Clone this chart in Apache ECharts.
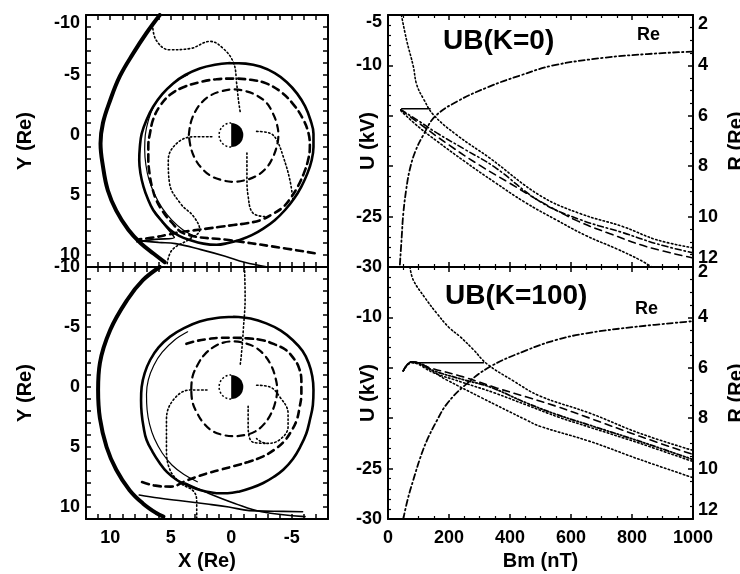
<!DOCTYPE html>
<html>
<head>
<meta charset="utf-8">
<script src="https://cdn.jsdelivr.net/npm/echarts@6/dist/echarts.min.js"></script>
<style>
  html, body { margin: 0; padding: 0; background: #fff; }
  #chart { width: 740px; height: 574px; }
</style>
</head>
<body>
<div id="chart"></div>
<script>
// ---- left panels: trajectories in the X-Y plane (Re) ----
const earthPos = [[0, 0]];
const earthRadius = 1.0;

const tlOuter = [[5.9,-10],[7.0,-8.5],[8.1,-6.8],[9.2,-4.9],[10.0,-2.9],[10.6,-1.0],[10.8,0.7],[10.6,2.6],[10.2,4.6],[9.5,6.3],[8.5,7.9],[7.5,9.0],[6.4,9.9],[5.5,10.6]];
const tlCircle = [[0.1,-6.0],[-1.2,-5.95],[-2.4,-5.7],[-3.6,-5.15],[-4.6,-4.4],[-5.45,-3.45],[-6.1,-2.4],[-6.55,-1.25],[-6.8,-0.1],[-6.8,1.0],[-6.65,2.1],[-6.3,3.2],[-5.8,4.3],[-5.2,5.3],[-4.45,6.25],[-3.6,7.1],[-2.65,7.8],[-1.7,8.35],[-0.7,8.75],[0.25,9.0],[1.2,9.15],[2.3,9.05],[3.4,8.75],[4.3,8.4],[5.06,7.9],[5.8,7.1],[6.45,6.25],[6.9,5.3],[7.25,4.3],[7.5,3.2],[7.6,2.1],[7.55,1.0],[7.4,-0.1],[7.0,-1.25],[6.45,-2.35],[5.7,-3.4],[4.8,-4.3],[3.8,-5.0],[2.6,-5.55],[1.35,-5.85],[0.1,-6.0]];
const tlInner = [[3.6,-5.0],[4.7,-4.4],[5.6,-3.5],[6.4,-2.4],[6.85,-1.2],[7.1,0.0],[7.15,1.2],[7.05,2.5],[6.8,3.7],[6.35,4.9],[5.7,6.1],[4.9,7.1],[4.0,7.9],[2.9,8.5]];
const tlTailA = [[7.8,8.9],[6.3,8.7],[4.7,8.55],[5.5,7.5],[6.4,6.3]];
const tlTailB = [[7.7,8.8],[6.0,8.95],[4.6,9.05],[2.5,9.55],[0.5,10.1],[-1.1,10.6],[-3.0,11.0]];
const tlDash = [[-6.9,9.85],[-3.5,9.3],[0.2,8.75],[3.8,8.25],[5.0,7.2],[5.7,6.3],[6.2,5.4],[6.55,4.3],[6.75,3.2],[6.85,2.0],[6.85,0.9],[6.7,-0.2],[6.45,-1.3],[5.9,-2.4],[5.0,-3.4],[3.9,-4.0],[2.6,-4.4],[1.2,-4.65],[-0.2,-4.7],[-1.6,-4.6],[-2.9,-4.3],[-4.1,-3.6],[-5.1,-2.6],[-5.9,-1.4],[-6.4,-0.1],[-6.5,1.0],[-6.35,2.1],[-6.0,3.2],[-5.5,4.3],[-4.95,5.2],[-4.3,6.0],[-3.4,6.6],[-2.4,7.1],[-1.3,7.35],[-0.2,7.5],[0.9,7.65],[2.0,7.8],[3.1,7.95],[4.2,8.1],[5.2,8.3],[6.2,8.5],[7.6,8.7]];
const tlSmall = [[3.5,0],[3.35,-1.0],[3.0,-1.9],[2.45,-2.7],[1.7,-3.3],[0.8,-3.65],[-0.2,-3.8],[-1.2,-3.65],[-2.1,-3.3],[-2.9,-2.7],[-3.4,-1.9],[-3.75,-1.0],[-3.9,0],[-3.75,1.0],[-3.4,1.95],[-2.9,2.75],[-2.1,3.4],[-1.2,3.75],[-0.2,3.9],[0.8,3.75],[1.7,3.4],[2.45,2.75],[3.0,1.95],[3.35,1.0],[3.5,0]];
const tlDot1 = [[6.5,-9.2],[6.2,-7.9],[5.1,-7.1],[3.4,-7.2],[1.75,-7.8],[0.65,-7.2],[-0.2,-6.0],[-0.45,-4.3],[-0.6,-2.9],[-0.75,-1.9]];
const tlDot2 = [[1.6,0.15],[3.1,0.15],[4.5,0.7],[5.2,2.1],[5.1,4.0],[4.2,5.7],[3.1,6.8],[2.6,7.9],[3.5,8.7],[4.9,9.6],[5.3,10.8]];
const tlDot3 = [[-2.1,-0.3],[-3.2,-0.15],[-3.75,0.4],[-4.3,1.8],[-4.85,3.75],[-5.1,5.4]];
const tlDot4 = [[-1.3,1.5],[-1.3,3.5],[-1.4,5.1],[-1.8,6.5],[-2.9,6.8]];

const blOuter = [[5.9,-10],[7.3,-8.9],[8.6,-7.25],[10.0,-4.75],[10.85,-2.0],[11.0,0.25],[10.85,2.6],[10.3,5.0],[9.5,6.9],[8.4,8.6],[7.3,9.7],[6.2,10.5],[5.6,10.8]];
const blCircle = [[-0.2,-5.85],[-1.6,-5.7],[-2.9,-5.3],[-4.1,-4.7],[-5.1,-3.9],[-5.9,-3.0],[-6.4,-2.0],[-6.7,-0.9],[-6.8,0.25],[-6.75,1.5],[-6.5,2.75],[-6.2,3.9],[-5.7,5.0],[-5.1,6.0],[-4.3,6.9],[-3.5,7.5],[-2.65,8.0],[-1.7,8.4],[-0.7,8.7],[0.3,8.85],[1.2,8.85],[2.1,8.7],[2.85,8.5],[3.7,8.15],[4.5,7.75],[5.3,7.1],[5.9,6.35],[6.5,5.4],[7.0,4.4],[7.25,3.3],[7.4,2.2],[7.45,1.1],[7.4,0],[7.15,-1.15],[6.7,-2.25],[6.0,-3.3],[5.05,-4.2],[3.9,-4.9],[2.6,-5.45],[1.2,-5.75],[-0.2,-5.85]];
const blInner = [[3.6,-4.6],[4.7,-3.9],[5.7,-2.9],[6.4,-1.8],[6.85,-0.6],[7.0,0.6],[6.95,1.9],[6.75,3.1],[6.35,4.3],[5.7,5.5],[4.9,6.5],[3.9,7.3],[2.8,7.9]];
const blTailA = [[7.6,9.0],[6.0,9.25],[4.0,9.5],[2.0,9.75],[0.2,10.0],[-1.5,10.3],[-3.5,10.35],[-5.9,10.4]];
const blTailB = [[3.8,8.0],[2.0,8.8],[-0.3,9.7],[-2.5,10.4],[-6.1,10.8]];
const blDash = [[3.7,-3.6],[2.8,-3.85],[1.9,-4.0],[0.9,-4.1],[-0.2,-4.1],[-1.4,-4.05],[-2.6,-3.9],[-3.6,-3.55],[-4.5,-3.1],[-5.15,-2.4],[-5.6,-1.6],[-5.8,-0.5],[-5.8,0.6],[-5.65,1.7],[-5.4,2.8],[-4.95,3.7],[-4.4,4.5],[-3.6,5.2],[-2.6,5.8],[-1.4,6.25],[-0.2,6.6],[0.9,6.9],[2.0,7.2],[2.9,7.5],[3.7,7.8],[5.0,8.3],[6.4,8.2],[7.7,7.8]];
const blSmall = [[3.3,0.2],[3.2,-0.85],[2.8,-1.8],[2.25,-2.65],[1.5,-3.3],[0.65,-3.7],[-0.2,-3.8],[-1.15,-3.65],[-2.0,-3.3],[-2.75,-2.65],[-3.3,-1.8],[-3.65,-0.8],[-3.8,0.2],[-3.65,1.25],[-3.3,2.2],[-2.75,3.05],[-2.0,3.7],[-1.15,4.0],[-0.2,4.1],[0.65,4.0],[1.5,3.7],[2.25,3.05],[2.8,2.2],[3.2,1.25],[3.3,0.2]];
const blDot1 = [[-1.1,-10],[-1.15,-7.5],[-1.0,-4.75],[-0.85,-2.8],[-0.75,-1.9]];
const blDot2 = [[2.0,0.25],[3.4,0.25],[4.8,1.1],[5.35,2.75],[5.35,5.0],[5.1,6.8],[4.2,8.0],[3.1,8.7],[2.85,9.6],[2.85,11]];
const blDot3 = [[-2.1,-0.15],[-3.2,0],[-4.0,0.8],[-4.7,2.2],[-4.7,3.3],[-4.0,4.4],[-2.9,4.7],[-2.1,4.3]];
const blDot4 = [[-1.4,1.6],[-1.4,3.3],[-1.8,4.6],[-2.9,4.7]];

// ---- right panels: U (kV) and R (Re) versus Bm (nT) ----
const trRe = [[39,11.9],[45,10.8],[50,9.9],[60,8.9],[72,8.1],[90,7.4],[116,6.76],[154,6.03],[225,5.44],[330,4.85],[433,4.4],[542,4.0],[706,3.7],[850,3.55],[1000,3.45]];
const trFlat = [[45,-14.3],[138,-14.3]];
const trA = [[44,-5],[61,-7.5],[83,-10.1],[94,-11.9],[116,-13.3],[149,-14.9],[225,-16.9],[334,-19.2],[498,-22.9],[630,-24.7],[771,-26.0],[881,-27.3],[1000,-28.1]];
const trB = [[42,-14.4],[100,-15.5],[160,-16.7],[250,-18.3],[350,-20.1],[498,-23.5],[630,-25.3],[771,-26.6],[881,-27.7],[1000,-28.6]];
const trC = [[42,-14.4],[100,-15.7],[200,-17.9],[300,-19.9],[400,-21.7],[500,-23.5],[619,-25.4],[728,-26.7],[850,-28.0],[1000,-29.1]];
const trD = [[42,-14.5],[100,-16.1],[160,-17.5],[250,-19.5],[350,-21.6],[450,-23.6],[550,-25.3],[650,-26.9],[750,-28.2],[826,-29.3],[865,-30]];

const brRe = [[50,12],[65,11.2],[83,10.45],[105,9.6],[127,8.9],[160,8.1],[192,7.45],[247,6.75],[334,5.96],[455,5.3],[550,4.9],[651,4.63],[815,4.37],[1000,4.15]];
const brFlat = [[83,-14.5],[313,-14.5]];
const brA = [[72,-5.0],[83,-6.3],[120,-8.0],[160,-9.6],[200,-11.0],[236,-11.9],[280,-13.2],[324,-14.6],[411,-16.3],[498,-17.8],[662,-19.5],[826,-21.5],[1000,-23.2]];
const brB = [[50,-15.3],[78,-14.4],[138,-15.0],[247,-15.9],[356,-17.0],[455,-17.9],[550,-18.8],[662,-20.0],[826,-21.8],[1000,-23.6]];
const brC = [[50,-15.3],[78,-14.4],[150,-15.3],[250,-16.2],[334,-16.9],[455,-18.5],[550,-19.6],[662,-20.7],[826,-22.3],[1000,-24.1]];
const brD = [[50,-15.3],[78,-14.5],[150,-15.5],[250,-16.5],[350,-17.5],[455,-18.7],[560,-19.9],[662,-20.9],[826,-22.5],[1000,-24.3]];
const brE = [[50,-15.3],[78,-14.4],[192,-16.2],[302,-17.9],[455,-20.2],[498,-20.8],[662,-22.3],[826,-24.1],[1000,-25.9]];

const F = 'Liberation Sans';
const black = '#000';
const txt = { fontFamily: F, fontWeight: 'bold', color: black };
const shift = (p) => ({ dn: Object.assign({ fontSize: 18, padding: [p, 0, 0, 0] }, txt), up: Object.assign({ fontSize: 18, padding: [0, 0, p, 0] }, txt) });

const axLine = { show: true, onZero: false, lineStyle: { color: black, width: 2 } };
const tick = { show: true, inside: true, length: 5, lineStyle: { color: black, width: 1.5 } };
const minor = (n) => ({ show: true, splitNumber: n, length: 3, lineStyle: { color: black, width: 1.2 } });
const nameStyle = Object.assign({ fontSize: 20 }, txt);

function xLeft(grid, pos, labels) {
  return {
    type: 'value', gridIndex: grid, position: pos, min: -8, max: 12, interval: 1, inverse: true,
    axisLine: axLine, axisTick: tick, splitLine: { show: false },
    axisLabel: { show: labels, margin: 10, fontSize: 18, ...txt, formatter: v => (v % 5 === 0 ? String(v) : '') },
    name: labels ? 'X (Re)' : '', nameLocation: 'middle', nameGap: 32, nameMoveOverlap: false, nameTextStyle: nameStyle
  };
}
function yLeft(grid, pos, labels, fmt) {
  return {
    type: 'value', gridIndex: grid, position: pos, min: -10, max: 11, interval: 1, inverse: true,
    axisLine: axLine, axisTick: tick, splitLine: { show: false },
    axisLabel: { show: labels, margin: 6, fontSize: 18, ...txt, formatter: fmt, rich: shift(16) },
    name: labels ? 'Y (Re)' : '', nameLocation: 'middle', nameGap: 51, nameRotate: 90, nameMoveOverlap: false, nameTextStyle: nameStyle
  };
}
function xRight(grid, pos, labels) {
  return {
    type: 'value', gridIndex: grid, position: pos, min: 0, max: 1000, interval: 200,
    axisLine: axLine, axisTick: tick, minorTick: minor(4), splitLine: { show: false },
    axisLabel: { show: labels, margin: 10, fontSize: 18, ...txt, formatter: v => String(v) },
    name: labels ? 'Bm (nT)' : '', nameLocation: 'middle', nameGap: 32, nameMoveOverlap: false, nameTextStyle: nameStyle
  };
}
function yU(grid, shown, padTop) {
  return {
    type: 'value', gridIndex: grid, position: 'left', min: -30, max: -5, interval: 5,
    axisLine: axLine, axisTick: tick, minorTick: minor(5), splitLine: { show: false },
    axisLabel: {
      margin: 6, fontSize: 18, ...txt, showMinLabel: true, showMaxLabel: true, rich: shift(padTop),
      formatter: v => (shown.indexOf(v) < 0 ? '' : (v === -5 ? '{dn|-5}' : String(v)))
    },
    name: 'U (kV)', nameLocation: 'middle', nameGap: 10, nameRotate: 90, nameMoveOverlap: false, nameTextStyle: nameStyle
  };
}
function yR(grid, padTop, padBot) {
  return {
    type: 'value', gridIndex: grid, position: 'right', min: 2, max: 12, interval: 2, inverse: true,
    axisLine: axLine, axisTick: tick, minorTick: minor(4), splitLine: { show: false },
    axisLabel: {
      margin: 5, fontSize: 18, ...txt, showMinLabel: true, showMaxLabel: true,
      rich: { dn: shift(padTop).dn, up: shift(padBot).up },
      formatter: v => (v === 2 ? '{dn|2}' : v === 12 ? '{up|12}' : String(v))
    },
    name: 'R (Re)', nameLocation: 'middle', nameGap: 33, nameRotate: 90, nameMoveOverlap: false, nameTextStyle: nameStyle
  };
}

function line(xi, yi, data, width, dash, smooth) {
  return {
    type: 'line', xAxisIndex: xi, yAxisIndex: yi, data: data, symbol: 'none', silent: true,
    smooth: smooth === undefined ? 0.4 : smooth, animation: false,
    lineStyle: { color: black, width: width, type: dash || 'solid', cap: 'round' }
  };
}
function earth(xi, yi) {
  return {
    type: 'custom', xAxisIndex: xi, yAxisIndex: yi, data: earthPos, silent: true, animation: false,
    renderItem: (params, api) => {
      const c = api.coord([api.value(0), api.value(1)]);
      const r = api.size([earthRadius, 0])[0];
      return {
        type: 'group', children: [
          { type: 'sector', shape: { cx: c[0], cy: c[1], r: r, startAngle: -Math.PI / 2, endAngle: Math.PI / 2 }, style: { fill: black } },
          { type: 'arc', shape: { cx: c[0], cy: c[1], r: r, startAngle: Math.PI / 2, endAngle: Math.PI * 1.5 }, style: { stroke: black, fill: null, lineWidth: 1.5, lineDash: [2, 2] } }
        ]
      };
    }
  };
}

const DOT = [1.5, 2.5];
const DASH = [7, 5];
const DASHDOT = [6, 3, 1.5, 3];
const DASH3 = [5, 2, 1.5, 2, 1.5, 2];

function leftPanel(xi, yi, d) {
  return [
    line(xi, yi, d.outer, 4),
    line(xi, yi, d.circle, 2.6),
    line(xi, yi, d.inner, 1.2),
    line(xi, yi, d.tailA, 1.6),
    line(xi, yi, d.tailB, 1.6),
    line(xi, yi, d.dash, 2.6, DASH),
    line(xi, yi, d.small, 2.2, DASH),
    line(xi, yi, d.dot1, 1.6, DOT),
    line(xi, yi, d.dot2, 1.6, DOT),
    line(xi, yi, d.dot3, 1.6, DOT),
    line(xi, yi, d.dot4, 1.6, DOT),
    earth(xi, yi)
  ];
}

const series = [].concat(
  leftPanel(0, 0, { outer: tlOuter, circle: tlCircle, inner: tlInner, tailA: tlTailA, tailB: tlTailB, dash: tlDash, small: tlSmall, dot1: tlDot1, dot2: tlDot2, dot3: tlDot3, dot4: tlDot4 }),
  leftPanel(2, 2, { outer: blOuter, circle: blCircle, inner: blInner, tailA: blTailA, tailB: blTailB, dash: blDash, small: blSmall, dot1: blDot1, dot2: blDot2, dot3: blDot3, dot4: blDot4 }),
  [
    line(4, 5, trRe, 1.8, DASHDOT),
    line(4, 4, trFlat, 1.6, 'solid', false),
    line(4, 4, trA, 1.6, DOT),
    line(4, 4, trB, 1.6, DASHDOT),
    line(4, 4, trC, 1.6, DASH),
    line(4, 4, trD, 1.6, DOT),
    line(6, 7, brRe, 1.8, DASHDOT),
    line(6, 6, brFlat, 1.6, 'solid', false),
    line(6, 6, brA, 1.6, DOT),
    line(6, 6, brB, 1.6, DASH),
    line(6, 6, brC, 1.8, DASH3),
    line(6, 6, brD, 1.6, DOT),
    line(6, 6, brE, 1.6, DOT)
  ]
);

const titleStyle = (size) => Object.assign({ fontSize: size }, txt);
const gridBox = (left, top, width) => ({ left: left, top: top, width: width, height: 252, outerBoundsMode: 'none', containLabel: false });

const option = {
  backgroundColor: '#fff',
  animation: false,
  title: [
    { text: 'UB(K=0)', left: 443, top: 27, padding: 0, textStyle: titleStyle(28) },
    { text: 'UB(K=100)', left: 445, top: 282, padding: 0, textStyle: titleStyle(28) },
    { text: 'Re', left: 637, top: 26, padding: 0, textStyle: titleStyle(18) },
    { text: 'Re', left: 635, top: 300, padding: 0, textStyle: titleStyle(18) }
  ],
  grid: [
    gridBox(86, 15, 242),
    gridBox(86, 267, 242),
    gridBox(388, 15, 305),
    gridBox(388, 267, 305)
  ],
  xAxis: [
    xLeft(0, 'bottom', false), xLeft(0, 'top', false),
    xLeft(1, 'bottom', true), xLeft(1, 'top', false),
    xRight(2, 'bottom', false), xRight(2, 'top', false),
    xRight(3, 'bottom', true), xRight(3, 'top', false)
  ],
  yAxis: [
    yLeft(0, 'left', true, v => (v % 5 !== 0 || v > 10 ? '' : (v === -10 ? '{dn|-10}' : String(v)))), yLeft(0, 'right', false),
    yLeft(1, 'left', true, v => (v % 5 !== 0 || v > 10 ? '' : String(v))), yLeft(1, 'right', false),
    yU(2, [-5, -10, -25, -30], 14), yR(2, 18, 18),
    yU(3, [-10, -25, -30], 14), yR(3, 10, 18)
  ],
  series: series
};

const chart = echarts.init(document.getElementById('chart'), null, { renderer: 'canvas' });
chart.setOption(option);
</script>
</body>
</html>
